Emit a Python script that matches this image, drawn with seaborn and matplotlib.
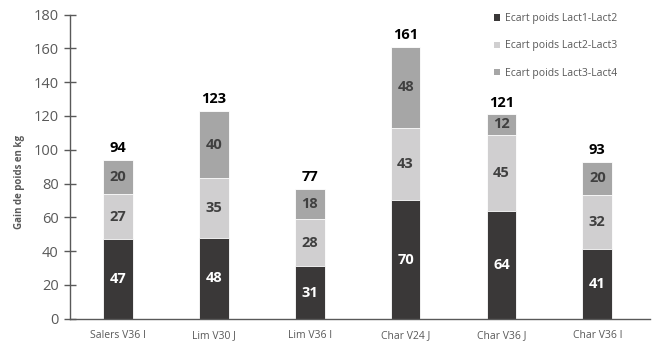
import numpy as np
import pandas as pd
import matplotlib
matplotlib.use("Agg")
import matplotlib.pyplot as plt
import seaborn as sns
from matplotlib.patches import Patch

categories = ["Salers V36 I", "Lim V30 J", "Lim V36 I", "Char V24 J", "Char V36 J", "Char V36 I"]
lact1_2 = [47, 48, 31, 70, 64, 41]
lact2_3 = [27, 35, 28, 43, 45, 32]
lact3_4 = [20, 40, 18, 48, 12, 20]
totals = [94, 123, 77, 161, 121, 93]
series_names = ["Ecart poids Lact1-Lact2", "Ecart poids Lact2-Lact3", "Ecart poids Lact3-Lact4"]
colors = ["#3a3838", "#d0cfd0", "#a6a6a6"]
text_colors = ["white", "#404040", "#404040"]

sns.set_style("white")
plt.rcParams["font.family"] = ["Open Sans", "DejaVu Sans"]

fig = plt.figure(figsize=(6.54, 3.44), dpi=100)
ax = fig.add_axes([0.107, 0.0735, 0.887, 0.884])

layers = [np.array(lact1_2), np.array(lact2_3), np.array(lact3_4)]
cum = np.cumsum(np.vstack(layers), axis=0)
df = pd.DataFrame({"cat": categories})
# draw from top of stack down so lower segments overlay
for i in [2, 1, 0]:
    df["v"] = cum[i]
    sns.barplot(data=df, x="cat", y="v", color=colors[i], width=0.31,
                saturation=1, ax=ax, edgecolor="white", linewidth=0.6)

# segment labels
for i in range(3):
    bottoms = cum[i] - layers[i]
    for j, val in enumerate(layers[i]):
        ax.text(j, bottoms[j] + val / 2, str(val), ha="center", va="center",
                fontsize=10.5, fontweight="bold", color=text_colors[i])
for j, t in enumerate(totals):
    ax.text(j, cum[2][j] + 2.8, str(t), ha="center", va="bottom",
            fontsize=10.5, fontweight="bold", color="black")

ax.set_ylim(0, 180)
ax.set_xlim(-0.5, 5.55)
ax.set_yticks(range(0, 181, 20))
ax.set_xlabel("")
ax.set_ylabel("Gain de poids en kg", fontsize=7, fontweight="bold", color="#595959")
ax.yaxis.set_label_coords(-0.077, 0.45)
ax.tick_params(axis="y", direction="inout", length=8, width=1, color="#595959",
               labelsize=10.5, labelcolor="#595959", left=True, pad=4)
ax.tick_params(axis="x", length=0, labelsize=7.5, labelcolor="#595959", pad=8)
for s in ["top", "right"]:
    ax.spines[s].set_visible(False)
for s in ["left", "bottom"]:
    ax.spines[s].set_color("#595959")
    ax.spines[s].set_linewidth(1)

handles = [Patch(facecolor=c, edgecolor="none") for c in colors]
leg = ax.legend(handles, series_names, loc="upper left", bbox_to_anchor=(0.715, 1.035),
                frameon=False, fontsize=7.5, handlelength=0.6, handleheight=0.6,
                labelspacing=1.55, handletextpad=0.4, labelcolor="#595959")

fig.savefig("out.png", dpi=100)
